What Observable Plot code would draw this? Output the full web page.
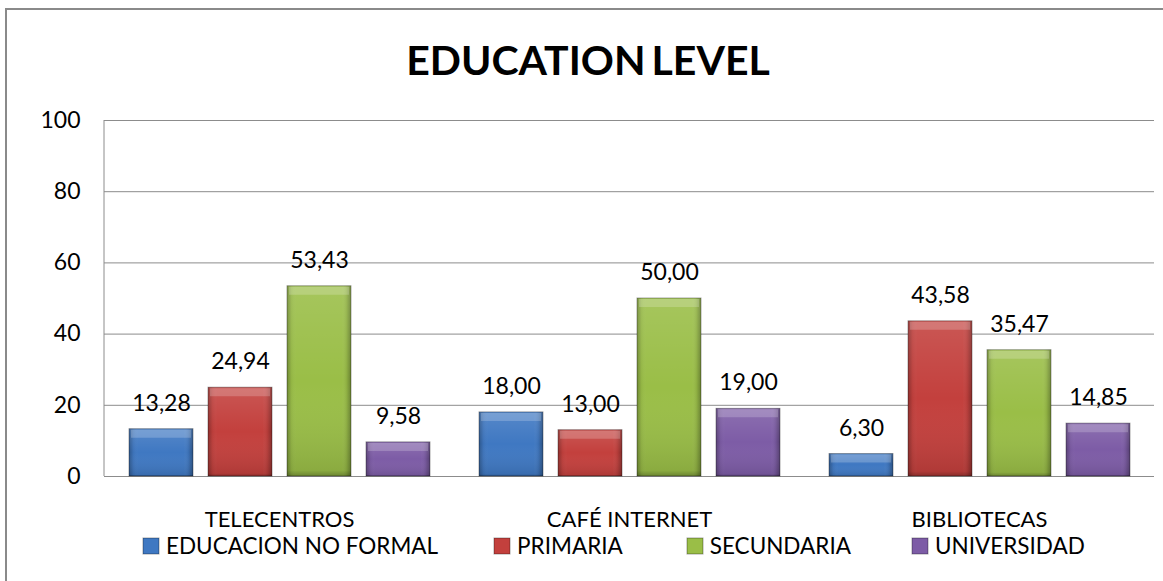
<!DOCTYPE html>
<html>
<head>
<meta charset="utf-8">
<script src="https://cdn.jsdelivr.net/npm/d3@7"></script>
<script src="https://cdn.jsdelivr.net/npm/@observablehq/plot@0.6"></script>
<style>
  html, body { margin: 0; padding: 0; background: #fff; overflow: hidden; }
  body { width: 1163px; height: 581px; position: relative; font-family: Lato, "Noto Sans", sans-serif; }
  #frame { position: absolute; left: 5px; top: 8px; width: 1300px; height: 700px;
           border-left: 2px solid #8a8a8a; border-top: 2px solid #8a8a8a; }
  #title { position: absolute; left: 0; width: 1176px; top: 32px; text-align: center;
           font: 700 41px Lato, sans-serif; color: #000; line-height: 56px; word-spacing: -4px; }
  #chart { position: absolute; left: 0; top: 90px; }
  #legend { position: absolute; left: 143px; top: 532px; width: 1020px; }
  .lg-swatches { display: flex; justify-content: flex-start; align-items: center;
                 font: 22.5px Lato, sans-serif; color: #000; min-height: 26px; margin: 0; }
  .lg-swatch { display: inline-flex; align-items: center; margin-right: 60px; }
  .lg-swatch > svg { margin-right: 7px; }
  .lg-swatch rect { stroke: rgba(0,0,0,0.35); stroke-width: 1; }
</style>
</head>
<body>
<div id="frame"></div>
<div id="title">EDUCATION LEVEL</div>
<div id="chart"></div>
<div id="legend"></div>
<script>
const categories = ["TELECENTROS", "CAFÉ INTERNET", "BIBLIOTECAS"];
const series = ["EDUCACION NO FORMAL", "PRIMARIA", "SECUNDARIA", "UNIVERSIDAD"];
const noFormal    = [13.28, 18.00, 6.30];
const primaria    = [24.94, 13.00, 43.58];
const secundaria  = [53.43, 50.00, 35.47];
const universidad = [9.58, 19.00, 14.85];
const yTicks = [0, 20, 40, 60, 80, 100];
const colors = ["#3f78c2", "#c3403d", "#9abe47", "#7d5ca6"];

const seriesValues = [noFormal, primaria, secundaria, universidad];
const data = [];
categories.forEach((c, i) => {
  series.forEach((s, j) => data.push({cat: c, series: s, value: seriesValues[j][i]}));
});
const fmt = v => v.toFixed(2).replace(".", ",");

const marginLeft = 104;
const chart = Plot.plot({
  width: 1163,
  height: 450,
  marginTop: 30,
  marginBottom: 64,
  marginLeft,
  marginRight: 9,
  style: {fontFamily: "Lato, sans-serif", background: "transparent", overflow: "visible"},
  fx: {domain: categories, padding: 0, axis: null, label: null},
  x: {domain: series, paddingInner: 0.19, paddingOuter: 0.3, axis: null, label: null},
  y: {domain: [0, 100], axis: null, label: null},
  color: {domain: series, range: colors},
  marks: [
    Plot.gridY(yTicks, {stroke: "#8c8c8c", strokeOpacity: 1, strokeWidth: 1}),
    Plot.axisY(yTicks, {tickSize: 0, tickPadding: 24, fontSize: 23, fill: "#000", anchor: "left", label: null}),
    Plot.axisFx({anchor: "bottom", tickSize: 0, tickPadding: 35, fontSize: 22, fill: "#000", label: null}),
    Plot.barY(data, {fx: "cat", x: "series", y: "value", fill: "series", stroke: "rgba(0,0,0,0.35)", strokeWidth: 1}),
    Plot.barY(data, {fx: "cat", x: "series", y: "value", fill: "url(#bevelH)"}),
    Plot.barY(data, {fx: "cat", x: "series", y: "value", fill: "url(#bevelV)"}),
    Plot.tickY(data, {fx: "cat", x: "series", y: "value", stroke: "#fff", strokeOpacity: 0.2, strokeWidth: 8, dy: 4.5, inset: 2}),
    Plot.text(data, {fx: "cat", x: "series", y: "value", text: d => fmt(d.value), dy: -18.5,
                     lineAnchor: "bottom", fontSize: 23, fill: "#000"})
  ]
});

const svg = d3.select(chart);
const defs = svg.insert("defs", ":first-child");
const gh = defs.append("linearGradient").attr("id", "bevelH").attr("x1", 0).attr("x2", 1).attr("y1", 0).attr("y2", 0);
[[0, "#000", 0.28], [0.07, "#000", 0.05], [0.15, "#fff", 0.0], [0.85, "#fff", 0.0], [0.93, "#000", 0.08], [1, "#000", 0.32]]
  .forEach(([o, c, a]) => gh.append("stop").attr("offset", o).attr("stop-color", c).attr("stop-opacity", a));
const gv = defs.append("linearGradient").attr("id", "bevelV").attr("x1", 0).attr("x2", 0).attr("y1", 0).attr("y2", 1);
[[0, "#fff", 0.12], [0.5, "#fff", 0], [0.97, "#000", 0.1], [1, "#000", 0.3]]
  .forEach(([o, c, a]) => gv.append("stop").attr("offset", o).attr("stop-color", c).attr("stop-opacity", a));

// left edge of plot area
const y = chart.scale("y");
svg.append("line")
  .attr("x1", marginLeft).attr("x2", marginLeft)
  .attr("y1", y.apply(100)).attr("y2", y.apply(0))
  .attr("stroke", "#8c8c8c").attr("stroke-width", 1);

document.getElementById("chart").appendChild(chart);

const legend = Plot.legend({
  color: {domain: series, range: colors},
  legend: "swatches",
  swatchSize: 16,
  className: "lg"
});
document.getElementById("legend").appendChild(legend);
// spacing between legend entries (Excel-like layout)
const gaps = [56, 64, 61, 0];
d3.select(legend).selectAll(".lg-swatch").style("margin-right", (d, i) => `${gaps[i] ?? 0}px`);
</script>
</body>
</html>
